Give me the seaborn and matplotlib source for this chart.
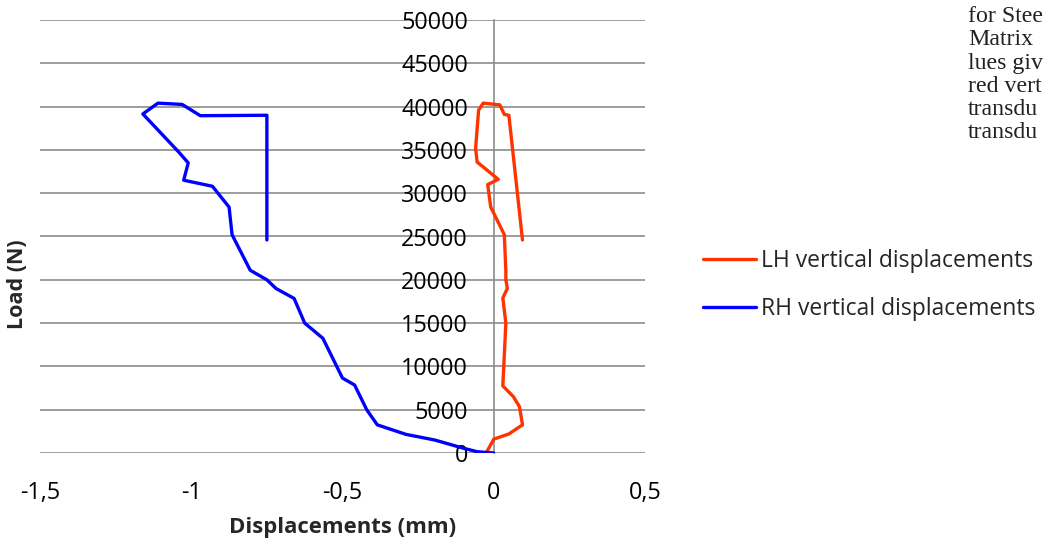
import matplotlib
matplotlib.use("Agg")
import matplotlib.pyplot as plt
import seaborn as sns
import pandas as pd

# Load-displacement readings for the left-hand and right-hand transducers
lh_disp = [-0.025, 0.0, 0.05, 0.095, 0.085, 0.065, 0.03, 0.04, 0.03, 0.045, 0.04,
           0.04, 0.035, -0.01, -0.02, 0.015, -0.055, -0.06, -0.05, -0.035, 0.02,
           0.035, 0.05, 0.095]
lh_load = [0, 1600, 2200, 3250, 5350, 6500, 7750, 15000, 17900, 19000, 20000,
           21000, 25200, 28400, 31000, 31600, 33600, 35200, 39600, 40400, 40200,
           39100, 39000, 24600]

rh_disp = [0.0, -0.055, -0.10, -0.195, -0.29, -0.385, -0.42, -0.46, -0.5, -0.565,
           -0.625, -0.66, -0.72, -0.75, -0.805, -0.865, -0.875, -0.93, -1.025,
           -1.01, -1.04, -1.11, -1.16, -1.11, -1.03, -0.97, -0.75, -0.75]
rh_load = [0, 150, 550, 1500, 2150, 3250, 5000, 7850, 8650, 13250, 15000, 17850,
           19000, 20000, 21100, 25200, 28400, 30800, 31500, 33500, 34700, 37300,
           39150, 40400, 40250, 38950, 39000, 24600]

series_names = ["LH vertical displacements", "RH vertical displacements"]
series_colors = ["#FF3300", "#0000FF"]

x_ticks = [-1.5, -1.0, -0.5, 0.0, 0.5]
x_tick_labels = ["-1,5", "-1", "-0,5", "0", "0,5"]
y_ticks = [0, 5000, 10000, 15000, 20000, 25000, 30000, 35000, 40000, 45000, 50000]
y_tick_labels = [str(v) for v in y_ticks]

side_text = ["for Stee", "Matrix", "lues giv", "red vert", "transdu", "transdu"]

df = pd.concat([
    pd.DataFrame({"disp": lh_disp, "load": lh_load, "series": series_names[0]}),
    pd.DataFrame({"disp": rh_disp, "load": rh_load, "series": series_names[1]}),
], ignore_index=True)

sns.set_style("white")
plt.rcParams["font.family"] = ["Open Sans", "DejaVu Sans"]

W, H = 1045, 544
fig = plt.figure(figsize=(W / 100, H / 100), dpi=100)
ax = fig.add_axes([40 / W, 1 - 453 / H, 605 / W, 433 / H])

grid_color = "#8C8C8C"

sns.lineplot(data=df, x="disp", y="load", hue="series", hue_order=series_names,
             palette=series_colors, sort=False, estimator=None, linewidth=2.4,
             ax=ax, legend=True, zorder=3)

ax.set_xlim(-1.5, 0.5)
ax.set_ylim(0, 50000)
ax.set_xticks(x_ticks)
ax.set_xticklabels(x_tick_labels)
ax.set_yticks(y_ticks)
ax.set_yticklabels(y_tick_labels)

ax.yaxis.grid(True, color=grid_color, linewidth=1.2)
ax.xaxis.grid(False)
for side in ["top", "right", "bottom"]:
    ax.spines[side].set_visible(False)
ax.spines["left"].set_position(("data", 0))
ax.spines["left"].set_color(grid_color)
ax.spines["left"].set_linewidth(1.2)
ax.spines["left"].set_zorder(2)

ax.tick_params(axis="y", length=0, pad=18.5, labelsize=16.8, labelcolor="black")
ax.tick_params(axis="x", length=0, pad=20, labelsize=16.8, labelcolor="black")
ax.set_facecolor("none")

ax.set_xlabel("Displacements (mm)", fontsize=15.9, fontweight="bold")
ax.set_ylabel("Load (N)", fontsize=15.5, fontweight="bold")
ax.xaxis.set_label_coords(0.5, (453 - 527) / 433)
ax.xaxis.label.set_va("center")
ax.yaxis.set_label_coords((18 - 40) / 605, (453 - 284) / 433)
ax.yaxis.label.set_va("center")

handles, labels = ax.get_legend_handles_labels()
ax.get_legend().remove()
fig.legend(handles, labels, loc="center left",
           bbox_to_anchor=(703 / W, 1 - 285 / H), bbox_transform=fig.transFigure,
           frameon=False, fontsize=16.5, handlelength=2.3, handletextpad=0.25,
           labelspacing=1.05, borderpad=0, borderaxespad=0)

for i, line in enumerate(side_text):
    fig.text(968 / W, 1 - (22 + 23.3 * i) / H, line, family="Liberation Serif",
             fontsize=17.2, color="#222222", va="baseline", ha="left")

fig.savefig("out.png", dpi=100)
